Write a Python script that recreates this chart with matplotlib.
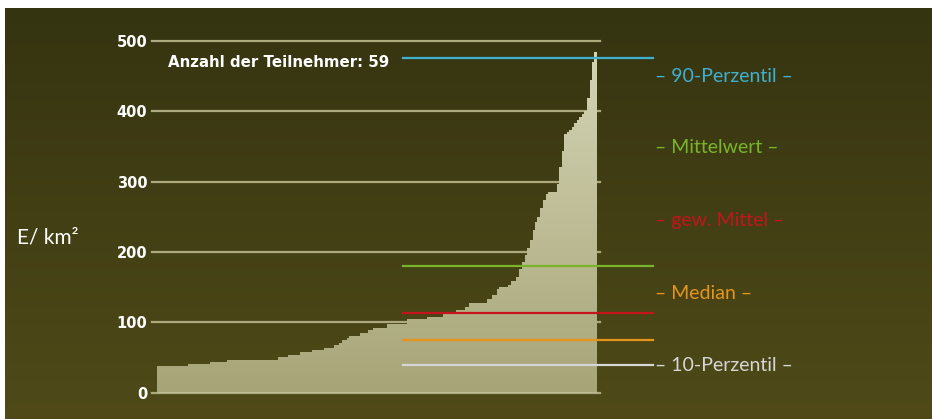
import numpy as np
import matplotlib
matplotlib.use("Agg")
import matplotlib.pyplot as plt
from matplotlib.colors import LinearSegmentedColormap

# participants sorted by density, bar widths are their relative weight
weights = [31, 22, 17, 51, 10, 12, 12, 12, 10, 5, 3, 5, 2, 11, 8, 5, 14, 20,
           20, 16, 13, 9, 4, 18, 5, 5, 2, 9, 3, 5, 3, 3, 3, 2, 3, 3, 2, 2, 3,
           3, 3, 2, 9, 2, 3, 2, 3, 2, 3, 2, 3, 2, 3, 2, 3, 3, 2, 2, 3]
density = [37, 40, 44, 46, 50, 53, 57, 60, 64, 68, 71, 75, 78, 81, 85, 89, 92,
           97, 104, 108, 111, 117, 122, 127, 133, 139, 147, 150, 153, 158, 164,
           175, 185, 195, 205, 217, 231, 243, 250, 262, 274, 282, 285, 296, 321,
           343, 367, 370, 374, 378, 383, 387, 392, 396, 400, 419, 444, 470, 484]

stat_names = ["90-Perzentil", "Mittelwert", "gew. Mittel", "Median", "10-Perzentil"]
stat_values = [476, 180, 113, 74, 39]
stat_colors = ["#3fb0cf", "#79b52a", "#c4151d", "#e5951c", "#d6d6d6"]
label_y = [449, 348, 244, 141, 39]

yticks = [0, 100, 200, 300, 400, 500]
n_participants = 59

W, H = 932, 419
fig = plt.figure(figsize=(W / 100, H / 100), dpi=100, facecolor="white")

# background gradient
bg = fig.add_axes([5 / W, 0, 1 - 5 / W, (H - 8) / H], zorder=0)
bg_cmap = LinearSegmentedColormap.from_list("bg", ["#353411", "#4f4a18"])
bg.imshow(np.linspace(0, 1, 256).reshape(-1, 1), aspect="auto", cmap=bg_cmap,
          extent=[0, 1, 0, 1], origin="upper")
bg.axis("off")

ax = fig.add_axes([157 / W, 26.5 / H, 440 / W, 351.5 / H], zorder=1)
ax.patch.set_alpha(0)
edges = np.concatenate([[0], np.cumsum(weights)])

for y in yticks:
    ax.axhline(y, xmin=-0.011, xmax=1.007, color="#aeaa80", lw=1.6,
               clip_on=False, zorder=1)

step = ax.stairs(density, edges, baseline=0, fill=True, color="#bdbb92", zorder=2)
bar_cmap = LinearSegmentedColormap.from_list("bars", ["#a7a577", "#d6d6b8"])
img = ax.imshow(np.linspace(0, 1, 256).reshape(-1, 1), aspect="auto", cmap=bar_cmap,
                extent=[edges[0], edges[-1], 0, 500], origin="lower", zorder=3)
img.set_clip_path(step)
ax.set_xlim(edges[0], edges[-1])
ax.set_ylim(0, 500)

for name, val, col, ly in zip(stat_names, stat_values, stat_colors, label_y):
    ax.axhline(val, xmin=0.559, xmax=1.127, color=col, lw=1.6,
               clip_on=False, zorder=4)
    ax.text(1.132, ly, f"\u2013 {name} \u2013", color=col, fontsize=14,
            family="Lato", va="center", ha="left",
            transform=ax.get_yaxis_transform())

ax.text(0.025, 470, f"Anzahl der Teilnehmer: {n_participants}", color="white",
        fontsize=10.8, fontweight="bold", va="center", ha="left",
        transform=ax.get_yaxis_transform())

ax.set_yticks(yticks)
ax.set_yticklabels([str(t) for t in yticks], color="white", fontsize=10.5,
                   fontweight="bold")
ax.tick_params(axis="y", length=0, pad=7)
ax.set_xticks([])
for s in ax.spines.values():
    s.set_visible(False)

fig.text(17 / W, 1 - 237 / H, "E/ km²", color="white", fontsize=15,
         family="Lato", va="center", ha="left")

fig.savefig("out.png", dpi=100, facecolor=fig.get_facecolor())
